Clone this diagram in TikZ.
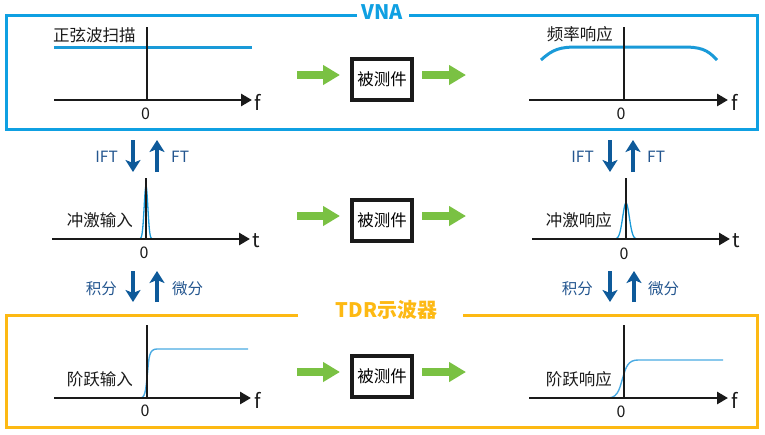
\documentclass[tikz,border=0pt]{standalone}
\usepackage{fontspec}
\setmainfont{Noto Sans CJK SC}
\usetikzlibrary{arrows.meta}
\definecolor{vnablue}{HTML}{0FA0E2}
\definecolor{tdrorange}{HTML}{FDB913}
\definecolor{darkblue}{HTML}{0E5A9A}
\definecolor{labelblue}{HTML}{24568F}
\definecolor{curveblue}{HTML}{1A9AD8}
\definecolor{stepblue}{HTML}{4AAAE2}
\definecolor{arrowgreen}{HTML}{7AC143}
\definecolor{axisblack}{HTML}{1A1A1A}
\tikzset{
  axisline/.style={line width=2.8pt, axisblack, -{Triangle[length=11pt,width=12pt]}},
  vaxis/.style={line width=2.8pt, axisblack},
  dutbox/.style={draw=axisblack, line width=3.6pt, minimum width=60.5pt, minimum height=41.5pt, inner sep=0pt, font=\fontsize{16.5}{16.5}\selectfont},
  greenarrow/.style={line width=8pt, arrowgreen, -{Triangle[length=17pt,width=19pt]}},
  ftarrow/.style={line width=3.6pt, darkblue, -{Stealth[length=12pt,width=15pt,inset=3pt]}},
  cjklabel/.style={font=\fontsize{16.5}{16.5}\selectfont, inner sep=0pt, text=axisblack},
  bluelabel/.style={font=\fontsize{15.5}{15.5}\selectfont, text=labelblue, inner sep=0pt},
  zerolabel/.style={font=\fontsize{16}{16}\selectfont, inner sep=0pt, text=axisblack},
  varlabel/.style={font=\fontsize{20}{20}\selectfont, inner sep=0pt, anchor=west, text=axisblack},
  framevna/.style={line width=3pt, vnablue},
  frametdr/.style={line width=3pt, tdrorange},
  sigcurve/.style={line width=3pt, curveblue},
  thincurve/.style={line width=1.3pt, curveblue},
  stepcurve/.style={line width=1.4pt, stepblue},
}
\begin{document}
\begin{tikzpicture}[x=1pt,y=-1pt]
\useasboundingbox (0,0) rectangle (765,434);

% ---------- VNA frame ----------
\node[font=\bfseries\fontsize{20}{20}\selectfont, text=vnablue, inner sep=0pt] (vnatitle) at (382.5,12.5) {VNA};
\coordinate (v1) at (357,15.5);
\coordinate (v2) at (409,15.5);
\draw[framevna] (v1) -- (6,15.5) -- (6,129.5) -- (757,129.5) -- (757,15.5) -- (v2);

% ---------- TDR frame ----------
\node[font=\bfseries\fontsize{20}{20}\selectfont, text=tdrorange, inner sep=0pt] (tdrtitle) at (386.5,310) {TDR示波器};
\coordinate (t1) at (298,315.5);
\coordinate (t2) at (463,315.5);
\draw[frametdr] (t1) -- (6,315.5) -- (6,427.5) -- (757,427.5) -- (757,315.5) -- (t2);

% ---------- signal curves (behind axes) ----------
\coordinate (sw1) at (54,47);
\coordinate (sw2) at (252,47);
\draw[sigcurve] (sw1) -- (sw2);
\coordinate (fr1) at (541,60);
\coordinate (fr2) at (717,60);
\draw[sigcurve] (fr1) .. controls (553,49) and (560,47) .. (578,47) -- (682,47) .. controls (700,47) and (707,49) .. (fr2);
\draw[thincurve] plot[domain=-7.5:7.5, samples=80, smooth] ({146+\x},{239-53/exp((\x/2.6)*(\x/2.6))});
\draw[thincurve] plot[domain=-11:11, samples=80, smooth] ({626+\x},{239-36/exp((\x/4.7)*(\x/4.7))});
\coordinate (s1) at (141,398);
\coordinate (s2) at (248,349);
\draw[stepcurve] (s1) .. controls (146,397) and (146,385) .. (147.5,373) .. controls (149,357) and (149,349) .. (157,349) -- (s2);
\coordinate (r1) at (609,398);
\coordinate (r2) at (723,360);
\draw[stepcurve] (r1) .. controls (619,397) and (620,386) .. (623,377) .. controls (626,367) and (628,360) .. (638,360) -- (r2);

% ---------- axes ----------
% top left
\coordinate (a1o) at (54,100); \coordinate (a1e) at (252,100);
\coordinate (a1t) at (147,27);  \coordinate (a1b) at (147,101.4);
\draw[vaxis] (a1t) -- (a1b);
\draw[axisline] (a1o) -- (a1e);
% top right
\coordinate (a2o) at (529,100); \coordinate (a2e) at (728,100);
\coordinate (a2t) at (624,27);  \coordinate (a2b) at (624,101.4);
\draw[vaxis] (a2t) -- (a2b);
\draw[axisline] (a2o) -- (a2e);
% middle left
\coordinate (a3o) at (52,239); \coordinate (a3e) at (250,239);
\coordinate (a3t) at (146,178); \coordinate (a3b) at (146,240.4);
\draw[vaxis] (a3t) -- (a3b);
\draw[axisline] (a3o) -- (a3e);
% middle right
\coordinate (a4o) at (532,239); \coordinate (a4e) at (730,239);
\coordinate (a4t) at (626,178); \coordinate (a4b) at (626,240.4);
\draw[vaxis] (a4t) -- (a4b);
\draw[axisline] (a4o) -- (a4e);
% bottom left
\coordinate (a5o) at (54,398); \coordinate (a5e) at (251,398);
\coordinate (a5t) at (147,325); \coordinate (a5b) at (147,399.4);
\draw[vaxis] (a5t) -- (a5b);
\draw[axisline] (a5o) -- (a5e);
% bottom right
\coordinate (a6o) at (529,398); \coordinate (a6e) at (728,398);
\coordinate (a6t) at (624,325); \coordinate (a6b) at (624,399.4);
\draw[vaxis] (a6t) -- (a6b);
\draw[axisline] (a6o) -- (a6e);

% axis labels
\node[varlabel] (f1) at (254,102) {f};
\node[varlabel] (f2) at (731,102) {f};
\node[varlabel] (tt1) at (252,241) {t};
\node[varlabel] (tt2) at (732,241) {t};
\node[varlabel] (f3) at (254,400) {f};
\node[varlabel] (f4) at (731,400) {f};
\node[zerolabel] (z1) at (145.5,114) {0};
\node[zerolabel] (z2) at (621,114) {0};
\node[zerolabel] (z3) at (144,253) {0};
\node[zerolabel] (z4) at (624,254) {0};
\node[zerolabel] (z5) at (145,411) {0};
\node[zerolabel] (z6) at (621,412) {0};

% curve labels
\node[cjklabel, anchor=west] (l1) at (53,35) {正弦波扫描};
\node[cjklabel, anchor=east] (l2) at (613,34.5) {频率响应};
\node[cjklabel, anchor=east] (l3) at (133,220) {冲激输入};
\node[cjklabel, anchor=east] (l4) at (612,220) {冲激响应};
\node[cjklabel, anchor=east] (l5) at (133,379.5) {阶跃输入};
\node[cjklabel, anchor=east] (l6) at (612,379.5) {阶跃响应};

% ---------- DUT boxes and green arrows ----------
\node[dutbox] (dut1) at (382,79.5) {被测件};
\node[dutbox] (dut2) at (382,220.5) {被测件};
\node[dutbox] (dut3) at (382,376.5) {被测件};
\coordinate (g1a) at (297,75);  \coordinate (g1b) at (340,75);
\coordinate (g2a) at (422,75);  \coordinate (g2b) at (466,75);
\coordinate (g3a) at (297,216); \coordinate (g3b) at (340,216);
\coordinate (g4a) at (422,216); \coordinate (g4b) at (466,216);
\coordinate (g5a) at (297,372); \coordinate (g5b) at (340,372);
\coordinate (g6a) at (422,372); \coordinate (g6b) at (466,372);
\draw[greenarrow] (g1a) -- (g1b);
\draw[greenarrow] (g2a) -- (g2b);
\draw[greenarrow] (g3a) -- (g3b);
\draw[greenarrow] (g4a) -- (g4b);
\draw[greenarrow] (g5a) -- (g5b);
\draw[greenarrow] (g6a) -- (g6b);

% ---------- transform arrows ----------
\coordinate (i1a) at (133,140); \coordinate (i1b) at (133,172);
\coordinate (i2a) at (157,172); \coordinate (i2b) at (157,140);
\coordinate (i3a) at (610,140); \coordinate (i3b) at (610,172);
\coordinate (i4a) at (633,172); \coordinate (i4b) at (633,140);
\draw[ftarrow] (i1a) -- (i1b);
\draw[ftarrow] (i2a) -- (i2b);
\draw[ftarrow] (i3a) -- (i3b);
\draw[ftarrow] (i4a) -- (i4b);
\node[bluelabel, anchor=east] (ift1) at (118,157) {IFT};
\node[bluelabel, anchor=west] (ft1) at (171,157) {FT};
\node[bluelabel, anchor=east] (ift2) at (594,157) {IFT};
\node[bluelabel, anchor=west] (ft2) at (647,157) {FT};

\coordinate (d1a) at (133,271); \coordinate (d1b) at (133,302);
\coordinate (d2a) at (157,302); \coordinate (d2b) at (157,271);
\coordinate (d3a) at (610,271); \coordinate (d3b) at (610,302);
\coordinate (d4a) at (634,302); \coordinate (d4b) at (634,271);
\draw[ftarrow] (d1a) -- (d1b);
\draw[ftarrow] (d2a) -- (d2b);
\draw[ftarrow] (d3a) -- (d3b);
\draw[ftarrow] (d4a) -- (d4b);
\node[bluelabel, anchor=east] (jf1) at (117,288.5) {积分};
\node[bluelabel, anchor=west] (wf1) at (172,288.5) {微分};
\node[bluelabel, anchor=east] (jf2) at (593,288.5) {积分};
\node[bluelabel, anchor=west] (wf2) at (648,288.5) {微分};
\end{tikzpicture}
\end{document}
